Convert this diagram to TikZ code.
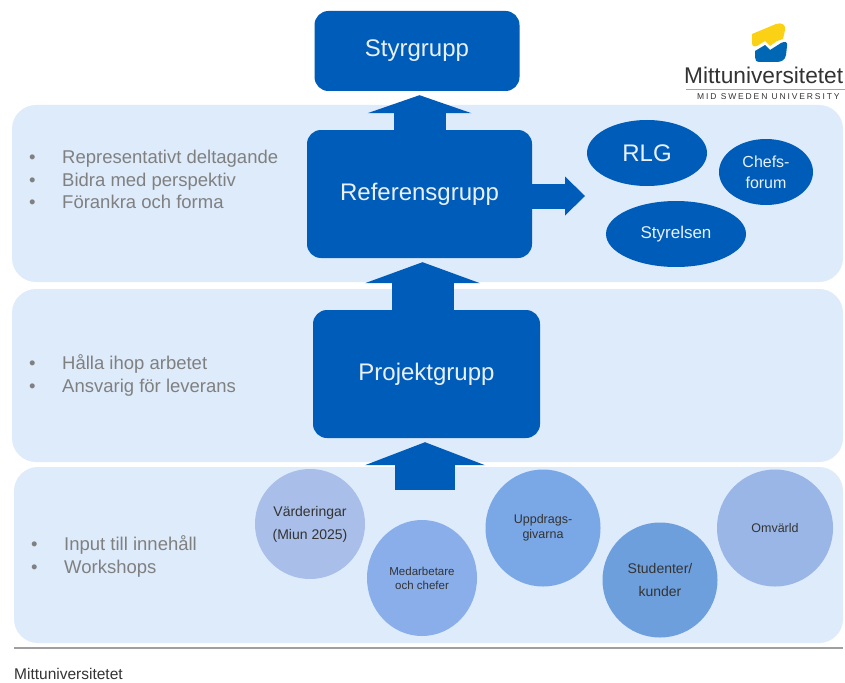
\documentclass[tikz,border=0pt]{standalone}
\usepackage{fontspec}
\setmainfont{Liberation Sans}
\usetikzlibrary{shapes.geometric,arrows.meta,calc}
\definecolor{miunblue}{HTML}{005CB9}
\definecolor{bandfill}{HTML}{DDEBFB}
\definecolor{bullgray}{HTML}{808080}
\definecolor{boxtext}{HTML}{E8F0FA}
\definecolor{cA}{HTML}{A9BEE8}
\definecolor{cB}{HTML}{89AEEA}
\definecolor{cC}{HTML}{7AA7E5}
\definecolor{cD}{HTML}{6E9FDD}
\definecolor{cE}{HTML}{9AB6E7}
\definecolor{logoyellow}{HTML}{FBD116}
\definecolor{logoblue}{HTML}{0067B5}
\definecolor{darktext}{HTML}{333333}
\begin{document}
\begin{tikzpicture}[x=1pt,y=-1pt,
  band/.style={fill=bandfill, rounded corners=24pt},
  bluebox/.style={fill=miunblue, rounded corners=14pt, text=boxtext, font=\fontsize{24}{28}\selectfont, inner sep=0pt},
  oval/.style={ellipse, fill=miunblue, text=boxtext, inner sep=0pt, align=center},
  circ/.style={ellipse, inner sep=0pt, align=center, text=black!80},
  bullet/.style={anchor=base west, text=bullgray, font=\fontsize{18.5}{20}\selectfont, inner sep=0pt},
  bigarrow/.style={draw=miunblue, line width=#1, line cap=butt},
]
\useasboundingbox (0,0) rectangle (845,682);
\fill[white] (0,0) rectangle (845,682);

% bands
\fill[band] (12,105) rectangle (843,282);
\fill[band] (12,289) rectangle (843,462);
\fill[band] (14,467) rectangle (843,643);

% main boxes
\node[bluebox, minimum width=205pt, minimum height=80pt] (styr) at (417,51) {Styrgrupp};
\node[bluebox, minimum width=225pt, minimum height=128pt] (ref) at (419.5,194) {Referensgrupp};
\node[bluebox, minimum width=227pt, minimum height=128pt] (proj) at (426.5,374) {Projektgrupp};

% ellipses
\node[oval, minimum width=120pt, minimum height=66pt, font=\fontsize{24}{28}\selectfont] (rlg) at (647,153) {RLG};
\node[oval, minimum width=94pt, minimum height=66pt, font=\fontsize{16}{21}\selectfont] (chefs) at (766,172) {Chefs-\\forum};
\node[oval, minimum width=140pt, minimum height=66pt, font=\fontsize{17}{20}\selectfont] (styrelsen) at (676,234) {Styrelsen};

% circles
\node[circ, fill=cA, minimum width=110pt, minimum height=110pt, font=\fontsize{14}{23}\selectfont] (vard) at (310,524) {Värderingar\\(Miun 2025)};
\node[circ, fill=cB, minimum width=110pt, minimum height=116pt, font=\fontsize{11.5}{14}\selectfont] (med) at (422,578) {Medarbetare\\och chefer};
\node[circ, fill=cC, minimum width=115pt, minimum height=117pt, font=\fontsize{12.5}{15}\selectfont] (upp) at (543,528) {Uppdrags-\\givarna};
\node[circ, fill=cD, minimum width=115pt, minimum height=115pt, font=\fontsize{14}{23}\selectfont] (stud) at (660,580) {Studenter/\\kunder};
\node[circ, fill=cE, minimum width=116pt, minimum height=117pt, font=\fontsize{12.5}{15}\selectfont] (omv) at (775,528) {Omvärld};

% block arrows
\draw[bigarrow=52pt, -{Triangle[width=104pt,length=18pt,line width=0pt]}, shorten >=4pt]
  (ref.north) -- (ref.north |- styr.south);
\coordinate (pjtop) at ($(proj.north)+(-4,0)$);
\draw[bigarrow=62pt, -{Triangle[width=115pt,length=21pt,line width=0pt]}, shorten >=4pt]
  (pjtop) -- (pjtop |- ref.south);
\coordinate (inbase) at (425,490);
\draw[bigarrow=60pt, -{Triangle[width=120pt,length=23pt,line width=0pt]}, shorten >=4pt]
  (inbase) -- (inbase |- proj.south);
\coordinate (rtip) at (585,196);
\draw[bigarrow=25pt, -{Triangle[width=39pt,length=20pt,line width=0pt]}]
  (ref.east |- rtip) -- (rtip);

% bullet lists
\node[bullet] (t1a) at (62,163) {Representativt deltagande};
\node[bullet] (t1b) at (62,186) {Bidra med perspektiv};
\node[bullet] (t1c) at (62,208) {Förankra och forma};
\node[bullet] (d1a) at (29,163) {•};
\node[bullet] (d1b) at (29,186) {•};
\node[bullet] (d1c) at (29,208) {•};

\node[bullet] (t2a) at (62,369) {Hålla ihop arbetet};
\node[bullet] (t2b) at (62,392) {Ansvarig för leverans};
\node[bullet] (d2a) at (29,369) {•};
\node[bullet] (d2b) at (29,392) {•};

\node[bullet] (t3a) at (64,550) {Input till innehåll};
\node[bullet] (t3b) at (64,573) {Workshops};
\node[bullet] (d3a) at (31,550) {•};
\node[bullet] (d3b) at (31,573) {•};

% footer
\draw[gray!75, line width=1.5pt] (14,648) -- (843,648);
\node[anchor=base west, inner sep=0pt, text=darktext, font=\fontsize{15.5}{18}\selectfont] (footer) at (14,679) {Mittuniversitetet};

% logo
\fill[logoyellow] (752,34) -- (776,24) .. controls (782,22) and (786,25) .. (785,30) -- (783,39) -- (777,41) -- (770,46) -- (765,41) -- (757,46) .. controls (754,47) and (752,46) .. (752,43) -- cycle;
\fill[logoblue] (755,51) -- (765,45) -- (770,50) -- (781,43) .. controls (785,41) and (788,42) .. (787,46) -- (786,55) .. controls (785,60) and (782,62) .. (776,62) -- (760,62) .. controls (756,62) and (755,60) .. (755,57) -- cycle;
\node[anchor=base west, inner sep=0pt, text=darktext, font=\fontsize{22.7}{26}\selectfont] (logotext) at (684,84) {Mittuniversitetet};
\draw[gray!70, line width=1.5pt] (686,89.5) -- (845,89.5);
\node[anchor=base west, inner sep=0pt, text=darktext, font=\fontsize{8.5}{9}\selectfont\addfontfeature{LetterSpace=22}] (logosub) at (697,99.5) {MID SWEDEN UNIVERSITY};
\end{tikzpicture}
\end{document}
